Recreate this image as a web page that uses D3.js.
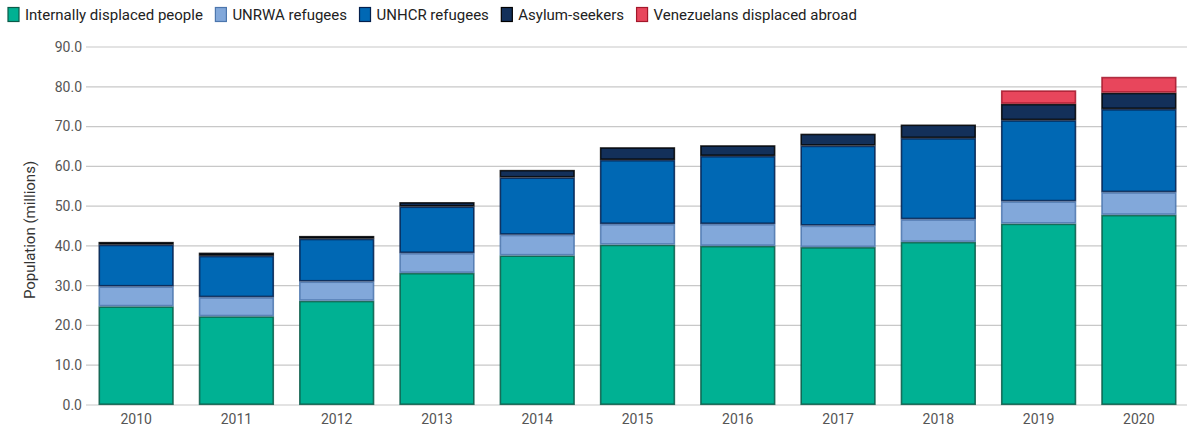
<!DOCTYPE html>
<html>
<head>
<meta charset="utf-8">
<script src="https://cdn.jsdelivr.net/npm/d3@7"></script>
<style>
  body { margin: 0; background: #fff; font-family: Roboto, "Noto Sans", sans-serif; }
  #chart svg { display: block; }
</style>
</head>
<body>
<div id="chart"></div>
<script>
// Data (millions)
const years = ["2010", "2011", "2012", "2013", "2014", "2015", "2016", "2017", "2018", "2019", "2020"];
const idp        = [24.8, 22.3, 26.2, 33.2, 37.6, 40.3, 40.0, 39.7, 41.0, 45.6, 47.8];
const unrwa      = [5.0, 4.8, 4.85, 5.0, 5.2, 5.2, 5.5, 5.4, 5.7, 5.6, 5.7];
const unhcr      = [10.5, 10.4, 10.75, 11.7, 14.4, 16.1, 17.1, 20.1, 20.4, 20.4, 20.9];
const asylum     = [0.7, 0.8, 0.7, 1.1, 1.9, 3.2, 2.7, 3.0, 3.4, 4.1, 4.1];
const venezuelan = [0, 0, 0, 0, 0, 0, 0, 0, 0, 3.4, 4.0];
const yTicks = [0, 10, 20, 30, 40, 50, 60, 70, 80, 90];

const seriesNames = ["Internally displaced people", "UNRWA refugees", "UNHCR refugees", "Asylum-seekers", "Venezuelans displaced abroad"];
const seriesData = [idp, unrwa, unhcr, asylum, venezuelan];
const colors = ["#00b193", "#82a8da", "#0068b4", "#13305a", "#e8465c"];
const edges  = ["#0b5a48", "#4c76ad", "#04204d", "#000000", "#a3182b"];

const W = 1187, H = 427;
const svg = d3.select("#chart").append("svg").attr("width", W).attr("height", H);

const x = d3.scaleBand().domain(years).range([86, 1189]).paddingInner(0.25).paddingOuter(0.125);
const y = d3.scaleLinear().domain([0, 90]).range([405, 47]);

// gridlines
svg.append("g").selectAll("line").data(yTicks).join("line")
    .attr("x1", 86).attr("x2", W)
    .attr("y1", d => y(d)).attr("y2", d => y(d))
    .attr("stroke", "#c8c8c8").attr("stroke-width", 1.2);

// y tick labels
svg.append("g").selectAll("text").data(yTicks).join("text")
    .attr("x", 82).attr("y", d => y(d)).attr("dy", "0.35em")
    .attr("text-anchor", "end")
    .attr("fill", "#555").style("font-size", "14px")
    .text(d => d.toFixed(1));

// y title
svg.append("text")
    .attr("transform", `translate(35,${y(45) + 4}) rotate(-90)`)
    .attr("text-anchor", "middle")
    .attr("fill", "#333").style("font-size", "15px")
    .text("Population (millions)");

// stack
const rows = years.map((yr, i) => {
    const r = { year: yr };
    seriesNames.forEach((s, k) => r[s] = seriesData[k][i]);
    return r;
});
const stacked = d3.stack().keys(seriesNames)(rows);

const layers = svg.append("g").selectAll("g").data(stacked).join("g");
layers.each(function(layer, k) {
    d3.select(this).selectAll("rect")
        .data(layer.filter(d => d[1] - d[0] > 0))
        .join("rect")
        .attr("x", d => x(d.data.year) + 0.75)
        .attr("width", x.bandwidth() - 1.5)
        .attr("y", d => y(d[1]) + 0.75)
        .attr("height", d => Math.max(0, y(d[0]) - y(d[1]) - 1.5))
        .attr("fill", colors[k])
        .attr("stroke", edges[k])
        .attr("stroke-opacity", 0.85)
        .attr("stroke-width", 1.6);
});

// x labels
svg.append("g").selectAll("text").data(years).join("text")
    .attr("x", d => x(d) + x.bandwidth() / 2)
    .attr("y", 419).attr("dy", "0.35em")
    .attr("text-anchor", "middle")
    .attr("fill", "#555").style("font-size", "14px")
    .text(d => d);

// legend
const legend = svg.append("g");
let lx = 8;
seriesNames.forEach((name, k) => {
    legend.append("rect")
        .attr("x", lx).attr("y", 7.5).attr("width", 11).attr("height", 14)
        .attr("fill", colors[k]).attr("stroke", edges[k]).attr("stroke-width", 1.2);
    const t = legend.append("text")
        .attr("x", lx + 17).attr("y", 15).attr("dy", "0.35em")
        .attr("fill", "#222").style("font-size", "15px")
        .text(name);
    lx += 17 + t.node().getComputedTextLength() + 12.5;
});
</script>
</body>
</html>
